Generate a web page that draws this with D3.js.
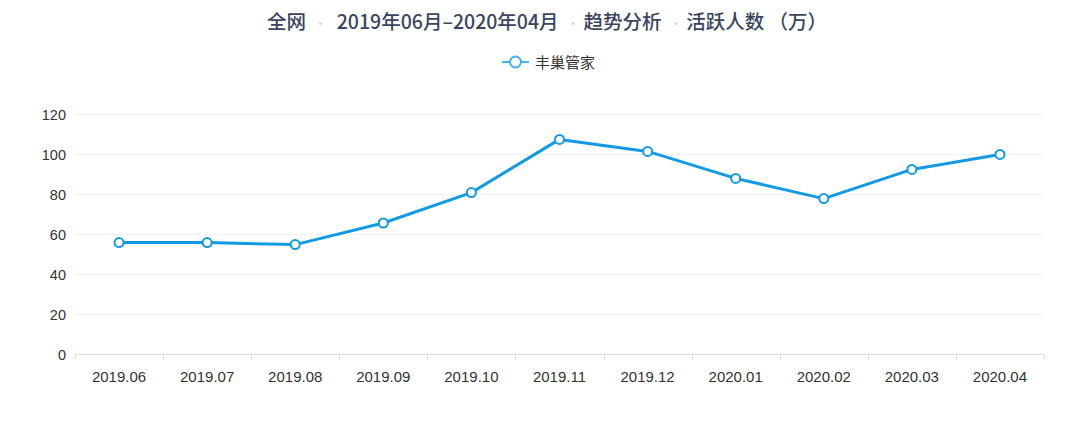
<!DOCTYPE html>
<meta charset="utf-8">
<script src="https://d3js.org/d3.v7.min.js"></script>
<style>
  body { margin: 0; background: #fff; }
  svg { display: block; }
  .grid line { stroke: #f1f1f1; }
  .tick text { fill: #333; }
</style>
<body>
</body>
<script>
  // chart data
  var months = ["2019.06", "2019.07", "2019.08", "2019.09", "2019.10", "2019.11",
                "2019.12", "2020.01", "2020.02", "2020.03", "2020.04"];
  var active = [55.7, 55.7, 54.7, 65.5, 80.7, 107.3, 101.3, 87.8, 77.7, 92.3, 99.8];
  var yTicks = [0, 20, 40, 60, 80, 100, 120];
  var seriesName = "丰巢管家";
  var titleParts = ["全网", "2019年06月–2020年04月", "趋势分析", "活跃人数 （万）"];

  var width = 1080, height = 427;
  var margin = {top: 114, right: 36, bottom: 73, left: 75};
  var blue = "#129be4";
  var numFont = "'Liberation Sans', Arial, sans-serif";
  var cjkFont = "'Noto Sans CJK SC', sans-serif";

  var svg = d3.select("body").append("svg")
      .attr("width", width)
      .attr("height", height);

  var x = d3.scaleBand()
    .domain(months)
    .range([margin.left, width - margin.right]);

  var y = d3.scaleLinear()
    .domain([0, 120])
    .range([height - margin.bottom, margin.top]);

  // grid lines
  svg.append("g")
    .attr("class", "grid")
    .selectAll("line")
    .data(yTicks.slice(1))
    .enter().append("line")
    .attr("x1", margin.left)
    .attr("x2", width - margin.right)
    .attr("y1", function(d) { return y(d) + 0.5; })
    .attr("y2", function(d) { return y(d) + 0.5; });

  // y axis (labels only)
  var yAxis = d3.axisLeft(y).tickValues(yTicks).tickSize(0).tickPadding(9);
  var gy = svg.append("g")
    .attr("transform", "translate(" + margin.left + ",0)")
    .call(yAxis);
  gy.select(".domain").remove();
  gy.selectAll("text")
    .style("font-family", numFont)
    .style("font-size", "14.5px")
    .attr("dy", "0.36em");

  // x axis, ticks on band boundaries
  var gx = svg.append("g")
    .attr("transform", "translate(0," + (y(0) + 0.5) + ")");
  gx.append("line")
    .attr("x1", margin.left).attr("x2", width - margin.right)
    .attr("stroke", "#dcdcdc");
  var bounds = months.map(function(m) { return x(m); }).concat([x.range()[1]]);
  gx.selectAll(".xtick")
    .data(bounds)
    .enter().append("line")
    .attr("class", "xtick")
    .attr("x1", function(d) { return Math.round(d) + 0.5; })
    .attr("x2", function(d) { return Math.round(d) + 0.5; })
    .attr("y1", 0).attr("y2", 5)
    .attr("stroke", "#dcdcdc");
  gx.selectAll(".xlabel")
    .data(months)
    .enter().append("text")
    .attr("class", "xlabel")
    .attr("x", function(d) { return x(d) + x.bandwidth() / 2; })
    .attr("y", 27)
    .attr("text-anchor", "middle")
    .style("font-family", numFont)
    .style("font-size", "15px")
    .style("fill", "#333")
    .text(function(d) { return d; });

  // the line
  var line = d3.line()
    .x(function(d, i) { return x(months[i]) + x.bandwidth() / 2; })
    .y(function(d) { return y(d); });

  svg.append("path")
    .datum(active)
    .attr("fill", "none")
    .attr("stroke", blue)
    .attr("stroke-width", 3)
    .attr("stroke-linejoin", "round")
    .attr("d", line);

  svg.selectAll(".dot")
    .data(active)
    .enter().append("circle")
    .attr("class", "dot")
    .attr("cx", function(d, i) { return x(months[i]) + x.bandwidth() / 2; })
    .attr("cy", function(d) { return y(d); })
    .attr("r", 4.5)
    .attr("fill", "#fff")
    .attr("stroke", blue)
    .attr("stroke-width", 2);

  // title
  var title = svg.append("text")
    .attr("x", 547)
    .attr("y", 29)
    .attr("text-anchor", "middle")
    .style("font-family", cjkFont)
    .style("font-size", "19.5px")
    .style("font-weight", 500)
    .style("fill", "#3b4560");
  titleParts.forEach(function(t, i) {
    if (i > 0) {
      title.append("tspan").attr("dx", 4).text(" ");
      title.append("tspan").style("fill", "#d0d3d8").style("font-size", "12px").text("•");
      title.append("tspan").attr("dx", i == 1 ? 6 : 0).text(i == 1 ? "  " : " ");
    }
    title.append("tspan").text(t);
  });

  // legend
  var legend = svg.append("g").attr("transform", "translate(502,62)");
  legend.append("line")
    .attr("x1", 0).attr("x2", 27)
    .attr("stroke", "#3fb0f2").attr("stroke-width", 2);
  legend.append("circle")
    .attr("cx", 13.5).attr("r", 5.5)
    .attr("fill", "#fff").attr("stroke", "#3fb0f2").attr("stroke-width", 2);
  legend.append("text")
    .attr("x", 33).attr("y", 5.5)
    .style("font-family", cjkFont)
    .style("font-size", "15px")
    .style("fill", "#333")
    .text(seriesName);
</script>
